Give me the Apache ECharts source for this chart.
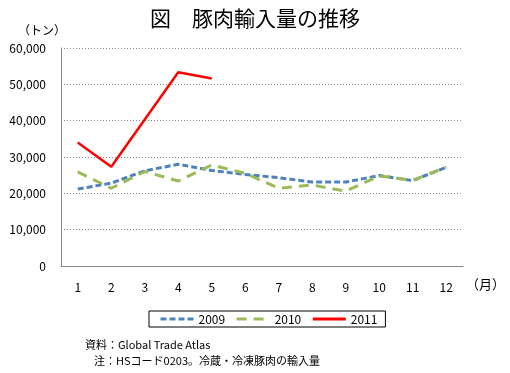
<!DOCTYPE html>
<html>
<head>
<meta charset="utf-8">
<script src="https://cdn.jsdelivr.net/npm/echarts@6/dist/echarts.min.js"></script>
<style>html,body{margin:0;padding:0;background:#fff}#c{width:510px;height:373px}</style>
</head>
<body>
<div id="c"></div>
<script>
var months = ['1','2','3','4','5','6','7','8','9','10','11','12'];
var s2009 = [21200, 22800, 26200, 28000, 26300, 25200, 24300, 23100, 23100, 24900, 23500, 27200];
var s2010 = [25900, 21400, 26000, 23400, 27800, 25500, 21400, 22300, 20600, 24800, 23600, 27200];
var s2011 = [34000, 27300, 40300, 53300, 51600];
var yTicks = [0, 10000, 20000, 30000, 40000, 50000, 60000];
var titleText = '図　豚肉輸入量の推移';
var yUnit = '（トン）';
var xUnit = '（月）';
var note1 = '資料：Global Trade Atlas';
var note2 = '注：HSコード0203。冷蔵・冷凍豚肉の輸入量';

var font = '"Noto Sans CJK JP", "Noto Sans", sans-serif';
var chart = echarts.init(document.getElementById('c'));
chart.setOption({
  animation: false,
  backgroundColor: '#fff',
  textStyle: { fontFamily: font },
  title: {
    text: titleText, left: 'center', top: 3,
    textStyle: { fontSize: 21, fontWeight: 'normal', color: '#000', fontFamily: font }
  },
  grid: { left: 61, right: 47, top: 48, bottom: 107, containLabel: false },
  xAxis: {
    type: 'category', data: months, boundaryGap: true,
    axisLine: { lineStyle: { color: '#868686', width: 1 } },
    axisTick: { show: false },
    axisLabel: { color: '#000', fontSize: 12, margin: 15, fontFamily: font }
  },
  yAxis: {
    type: 'value', min: yTicks[0], max: yTicks[yTicks.length - 1], interval: 10000,
    axisLine: { show: true, lineStyle: { color: '#868686', width: 1 } },
    axisTick: { show: false },
    axisLabel: { color: '#000', fontSize: 12, margin: 15, fontFamily: font,
      formatter: function (v) { return v.toLocaleString('en-US'); } },
    splitLine: { show: true, lineStyle: { color: '#8c8c8c', type: [1, 2], width: 1 } }
  },
  legend: {
    left: 149, top: 311,
    borderColor: '#000', borderWidth: 1, padding: [2, 8, 2, 10],
    itemWidth: 33, itemHeight: 10, itemGap: 10,
    itemStyle: { opacity: 0 },
    lineStyle: { width: 3 },
    textStyle: { fontSize: 12, color: '#000', fontFamily: font },
    data: ['2009', '2010', '2011']
  },
  series: [
    { name: '2009', type: 'line', data: s2009, symbol: 'none',
      lineStyle: { color: '#4F81BD', width: 3, type: [6, 3] }, itemStyle: { color: '#4F81BD' } },
    { name: '2010', type: 'line', data: s2010, symbol: 'none',
      lineStyle: { color: '#9BBB59', width: 3, type: [10, 7] }, itemStyle: { color: '#9BBB59' } },
    { name: '2011', type: 'line', data: s2011, symbol: 'none',
      lineStyle: { color: '#FF0000', width: 2.5 }, itemStyle: { color: '#FF0000' } }
  ],
  graphic: [
    { type: 'text', left: 18, top: 24, style: { text: yUnit, fill: '#000', font: '12px ' + font } },
    { type: 'text', left: 466, top: 278, style: { text: xUnit, fill: '#000', font: '13px ' + font } },
    { type: 'text', left: 85, top: 339, style: { text: note1, fill: '#000', font: '11px ' + font } },
    { type: 'text', left: 94, top: 355, style: { text: note2, fill: '#000', font: '11px ' + font } }
  ]
});
</script>
</body>
</html>
